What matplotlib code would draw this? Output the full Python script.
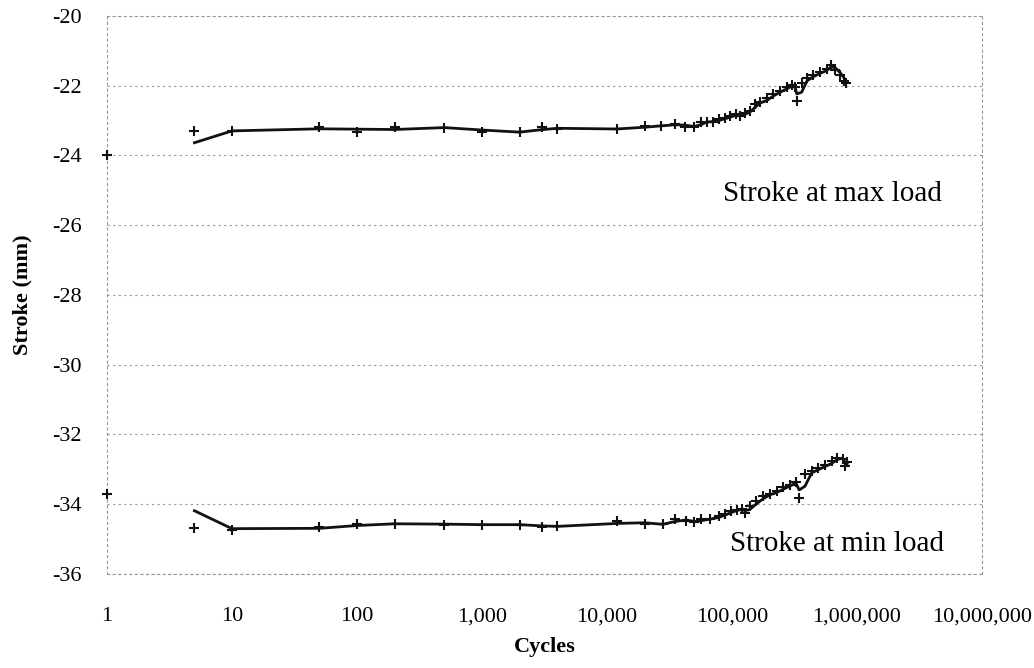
import numpy as np
import matplotlib
matplotlib.use("Agg")
import matplotlib.pyplot as plt
from matplotlib.ticker import FuncFormatter, FixedLocator, NullLocator

# stroke at max load (cycles, mm)
max_cycles = [1, 5, 10, 50, 100, 200, 500, 1000, 2000, 3000, 4000, 12000, 20000, 27000,
              35000, 42000, 50000, 57000, 63000, 70000, 79000, 88000, 96000, 107000,
              116000, 126000, 139000, 153000, 167000, 190000, 214000, 242000, 274000,
              300000, 318000, 330000, 361000, 398000, 448000, 506000, 572000, 616000,
              667000, 731000, 787000, 810000]
max_stroke = [-23.98, -23.29, -23.30, -23.17, -23.32, -23.19, -23.21, -23.33, -23.33, -23.19,
              -23.25, -23.23, -23.15, -23.15, -23.09, -23.17, -23.17, -23.05, -23.03, -23.03,
              -22.96, -22.93, -22.88, -22.81, -22.86, -22.79, -22.72, -22.52, -22.48, -22.36,
              -22.23, -22.14, -22.04, -21.98, -22.03, -22.44, -21.93, -21.79, -21.69, -21.60,
              -21.53, -21.40, -21.55, -21.69, -21.85, -21.91]

# stroke at min load (cycles, mm)
min_cycles = [1, 5, 10, 50, 100, 200, 500, 1000, 2000, 3000, 4000, 12000, 20000, 28000,
              35000, 43000, 50000, 57000, 67000, 78000, 88000, 99000, 109000, 120000,
              127000, 139000, 157000, 178000, 201000, 228000, 257000, 291000, 325000,
              345000, 384000, 434000, 491000, 555000, 629000, 695000, 767000, 800000, 833000]
min_stroke = [-33.70, -34.68, -34.73, -34.66, -34.57, -34.56, -34.59, -34.59, -34.59, -34.66,
              -34.62, -34.49, -34.58, -34.58, -34.42, -34.49, -34.51, -34.44, -34.42, -34.35,
              -34.28, -34.20, -34.17, -34.13, -34.25, -34.06, -33.92, -33.77, -33.70, -33.63,
              -33.52, -33.44, -33.37, -33.82, -33.15, -33.06, -32.96, -32.89, -32.77, -32.67,
              -32.70, -32.90, -32.80]

x_ticks = [1, 10, 100, 1000, 10000, 100000, 1000000, 10000000]
y_ticks = [-36, -34, -32, -30, -28, -26, -24, -22, -20]

plt.rcParams['font.family'] = ['Liberation Serif', 'DejaVu Serif']

fig = plt.figure(figsize=(10.34, 6.68), dpi=100)
ax = fig.add_axes([0.1035, 0.141, 0.8462, 0.835])


def moving_avg(xs, ys):
    # Excel style 2-period moving average trendline
    xs = np.array(xs, dtype=float)
    ys = np.array(ys, dtype=float)
    return xs[1:], (ys[1:] + ys[:-1]) / 2


for cx, cy in [(max_cycles, max_stroke), (min_cycles, min_stroke)]:
    ax.plot(cx, cy, linestyle='none', marker='+', markersize=7, markeredgewidth=1.5,
            color='#111111', zorder=3, clip_on=False)
    mx, my = moving_avg(cx, cy)
    ax.plot(mx, my, color='#111111', linewidth=2.0, zorder=2)

ax.set_xscale('log')
ax.set_xlim(1, 10000000)
ax.set_ylim(-36, -20)
ax.xaxis.set_major_locator(FixedLocator(x_ticks))
ax.xaxis.set_minor_locator(NullLocator())
ax.xaxis.set_major_formatter(FuncFormatter(lambda v, p: f"{int(round(v)):,}"))
ax.set_yticks(y_ticks)
ax.set_yticklabels([str(v) for v in y_ticks])

ax.tick_params(axis='both', length=0, labelsize=16)
ax.tick_params(axis='x', pad=24)
ax.tick_params(axis='y', pad=18)

ax.grid(axis='y', color='#999999', linestyle=(0, (2, 3)), linewidth=0.8)
ax.grid(axis='x', visible=False)
for side in ['left', 'right', 'top', 'bottom']:
    ax.spines[side].set_color('#999999')
    ax.spines[side].set_linestyle((0, (2, 3)))
    ax.spines[side].set_linewidth(0.8)

ax.set_xlabel('Cycles', fontsize=16, fontweight='bold', labelpad=8)
ax.set_ylabel('Stroke (mm)', fontsize=16, fontweight='bold', labelpad=14)

ax.text(10 ** 6.68, -25.1, 'Stroke at max load', fontsize=21, ha='right', va='center')
ax.text(10 ** 6.70, -35.15, 'Stroke at min load', fontsize=21, ha='right', va='center')

fig.savefig('out.png', dpi=100)
